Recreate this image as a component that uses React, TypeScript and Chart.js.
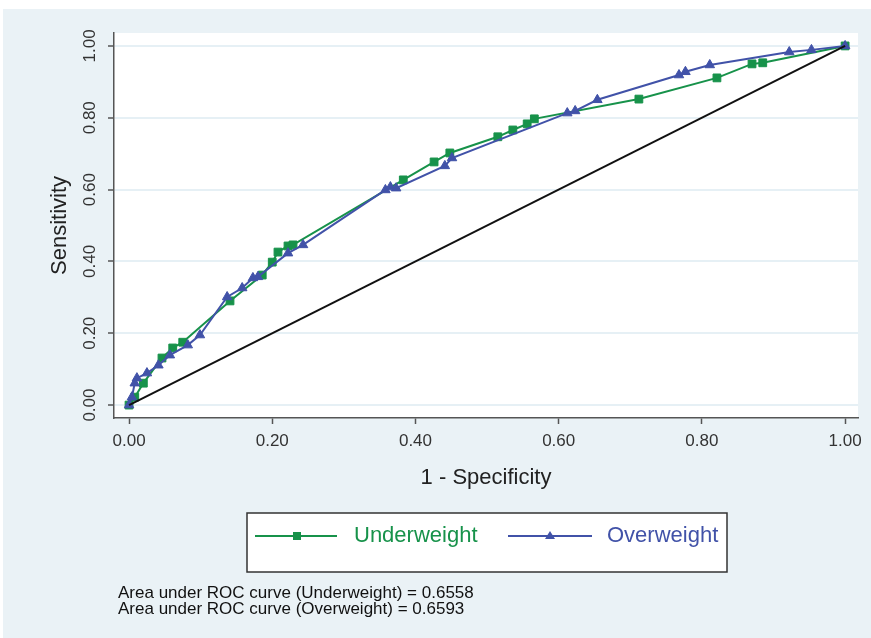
import React, { useEffect, useRef } from "react";
import { Chart, registerables } from "chart.js";

Chart.register(...registerables);

// ---- Data ----
const underweightFpr = [0, 0.008, 0.02, 0.046, 0.061, 0.075, 0.141, 0.186, 0.2, 0.208, 0.222, 0.229, 0.383, 0.426, 0.448, 0.515, 0.536, 0.556, 0.566, 0.712, 0.821, 0.87, 0.885, 1];
const underweightTpr = [0, 0.022, 0.061, 0.131, 0.159, 0.175, 0.29, 0.362, 0.398, 0.426, 0.443, 0.446, 0.627, 0.677, 0.702, 0.747, 0.766, 0.783, 0.797, 0.852, 0.911, 0.95, 0.953, 1];
const overweightFpr = [0, 0.004, 0.008, 0.011, 0.025, 0.041, 0.057, 0.082, 0.099, 0.137, 0.158, 0.173, 0.18, 0.222, 0.243, 0.358, 0.365, 0.373, 0.441, 0.451, 0.612, 0.623, 0.654, 0.768, 0.777, 0.811, 0.922, 0.953, 1];
const overweightTpr = [0, 0.022, 0.061, 0.075, 0.089, 0.111, 0.139, 0.167, 0.195, 0.301, 0.326, 0.354, 0.357, 0.423, 0.446, 0.599, 0.607, 0.604, 0.666, 0.688, 0.813, 0.819, 0.85, 0.919, 0.928, 0.947, 0.983, 0.989, 1];
const referenceX = [0, 1];
const referenceY = [0, 1];
const xTickValues = [0, 0.2, 0.4, 0.6, 0.8, 1];
const yTickValues = [0, 0.2, 0.4, 0.6, 0.8, 1];
const seriesNames = ["Underweight", "Overweight"];
const aucNotes = [
  "Area under ROC curve (Underweight) = 0.6558",
  "Area under ROC curve (Overweight) = 0.6593",
];

const GREEN = "#17924a";
const BLUE = "#4152a8";
const FONT = "'Liberation Sans', Arial, Helvetica, sans-serif";

export default function App() {
  const ref = useRef<HTMLCanvasElement>(null);

  useEffect(() => {
    const canvas = ref.current!;

    const bgPlugin = {
      id: "bgPanel",
      beforeDraw(chart: any) {
        const { ctx, chartArea: a } = chart;
        ctx.save();
        ctx.fillStyle = "#ffffff";
        ctx.fillRect(0, 0, chart.width, chart.height);
        ctx.fillStyle = "#eaf2f6";
        ctx.fillRect(3, 9, chart.width - 3, chart.height - 9);
        ctx.fillStyle = "#ffffff";
        ctx.fillRect(a.left, a.top, a.right - a.left, a.bottom - a.top);
        ctx.restore();
      },
    };

    const legendPlugin = {
      id: "legendBox",
      afterDraw(chart: any) {
        const ctx = chart.ctx;
        ctx.save();
        // box
        ctx.fillStyle = "#ffffff";
        ctx.fillRect(247, 513, 480, 59);
        ctx.strokeStyle = "#333333";
        ctx.lineWidth = 1.5;
        ctx.strokeRect(247, 513, 480, 59);
        const cy = 536;
        // green entry
        ctx.strokeStyle = GREEN;
        ctx.lineWidth = 2;
        ctx.beginPath();
        ctx.moveTo(255, cy);
        ctx.lineTo(337, cy);
        ctx.stroke();
        ctx.fillStyle = GREEN;
        ctx.fillRect(293, cy - 4, 8, 8);
        // blue entry
        ctx.strokeStyle = BLUE;
        ctx.beginPath();
        ctx.moveTo(508, cy);
        ctx.lineTo(592, cy);
        ctx.stroke();
        ctx.fillStyle = BLUE;
        ctx.beginPath();
        ctx.moveTo(550, cy - 5);
        ctx.lineTo(555, cy + 3);
        ctx.lineTo(545, cy + 3);
        ctx.closePath();
        ctx.fill();
        // labels
        ctx.font = `22px ${FONT}`;
        ctx.textBaseline = "middle";
        ctx.textAlign = "left";
        ctx.fillStyle = GREEN;
        ctx.fillText(seriesNames[0], 354, cy);
        ctx.fillStyle = BLUE;
        ctx.fillText(seriesNames[1], 607, cy);
        // notes
        ctx.font = `17px ${FONT}`;
        ctx.fillStyle = "#111111";
        ctx.fillText(aucNotes[0], 118, 593);
        ctx.fillText(aucNotes[1], 118, 609);
        ctx.restore();
      },
    };

    const toPts = (xs: number[], ys: number[]) => xs.map((x, i) => ({ x, y: ys[i] }));

    const chart = new Chart(canvas, {
      type: "scatter",
      data: {
        datasets: [
          {
            label: "Reference",
            data: toPts(referenceX, referenceY),
            showLine: true,
            borderColor: "#111111",
            borderWidth: 2,
            pointRadius: 0,
            order: 0,
          },
          {
            label: seriesNames[1],
            data: toPts(overweightFpr, overweightTpr),
            showLine: true,
            borderColor: BLUE,
            backgroundColor: BLUE,
            borderWidth: 2,
            pointStyle: "triangle",
            pointRadius: 5.5,
            pointBorderWidth: 1,
            order: 1,
          },
          {
            label: seriesNames[0],
            data: toPts(underweightFpr, underweightTpr),
            showLine: true,
            borderColor: GREEN,
            backgroundColor: GREEN,
            borderWidth: 2,
            pointStyle: "rect",
            pointRadius: 5.5,
            pointBorderWidth: 1,
            order: 2,
          },
        ],
      },
      options: {
        responsive: false,
        animation: false,
        devicePixelRatio: 1,
        layout: { padding: { top: 33, right: 13, bottom: 147, left: 0 } },
        plugins: {
          legend: { display: false },
          tooltip: { enabled: false },
        },
        scales: {
          x: {
            type: "linear",
            min: -0.021,
            max: 1.018,
            afterBuildTicks: (scale: any) => {
              scale.ticks = xTickValues.map((v) => ({ value: v }));
            },
            afterFit: (scale: any) => {
              scale.height = 73;
            },
            ticks: {
              callback: (v: any) => Number(v).toFixed(2),
              font: { family: FONT, size: 17 },
              color: "#333333",
              padding: 7,
              maxRotation: 0,
              minRotation: 0,
            },
            grid: {
              drawOnChartArea: false,
              drawTicks: true,
              tickLength: 6,
              tickColor: "#555555",
              tickWidth: 1.5,
            },
            border: { display: true, color: "#555555", width: 1.5 },
            title: {
              display: true,
              text: "1 - Specificity",
              font: { family: FONT, size: 22 },
              color: "#222222",
              padding: { top: 0, bottom: 0 },
            },
          },
          y: {
            type: "linear",
            min: -0.036,
            max: 1.036,
            afterBuildTicks: (scale: any) => {
              scale.ticks = yTickValues.map((v) => ({ value: v }));
            },
            afterFit: (scale: any) => {
              scale.width = 114;
            },
            ticks: {
              callback: (v: any) => Number(v).toFixed(2),
              font: { family: FONT, size: 17 },
              color: "#333333",
              padding: 1,
              minRotation: 90,
              maxRotation: 90,
              crossAlign: "center",
            },
            grid: {
              drawOnChartArea: true,
              color: "#e6f0f5",
              lineWidth: 2,
              drawTicks: true,
              tickLength: 6,
              tickColor: "#555555",
              tickWidth: 1.5,
            },
            border: { display: true, color: "#555555", width: 1.5 },
            title: {
              display: true,
              text: "Sensitivity",
              font: { family: FONT, size: 22 },
              color: "#222222",
              padding: { top: 47, bottom: 0 },
            },
          },
        },
      },
      plugins: [bgPlugin, legendPlugin],
    } as any);

    return () => chart.destroy();
  }, []);

  return (
    <div style={{ position: "absolute", left: 0, top: 0 }}>
      <canvas ref={ref} width={871} height={638} style={{ display: "block", width: 871, height: 638 }} />
    </div>
  );
}
